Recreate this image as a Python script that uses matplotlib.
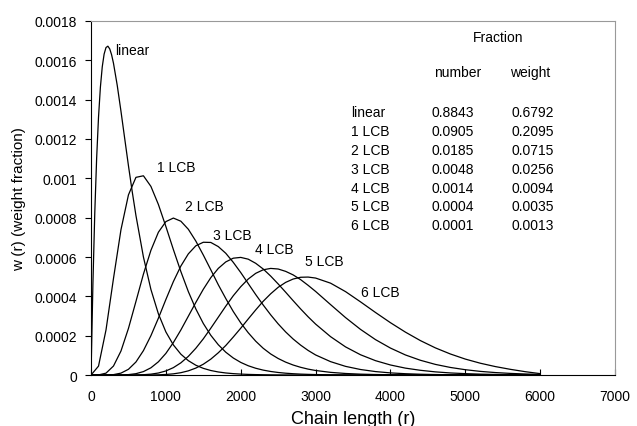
# 目标：不同长链支化数(LCB)分子的链长分布曲线

import numpy as np
import matplotlib
matplotlib.use('Agg')
import matplotlib.pyplot as plt

plt.rcParams['font.family'] = ['Liberation Sans', 'DejaVu Sans']

# 1.数据：链长 r 与各曲线的 w(r)
# linear 峰很窄，单独用更密的 r
r_lin = [0, 25, 50, 75, 100, 125, 150, 175, 200, 225, 250, 275, 300, 350, 400, 450, 500, 550, 600,
         700, 800, 900, 1000, 1100, 1200, 1300, 1400, 1500, 1600, 1700, 1800, 1900, 2000,
         2100, 2200, 2300, 2400, 2500, 2600, 2700, 2800, 2900, 3000, 4000, 5000, 6000]
w_linear = [0, 0.000461, 0.000823, 0.001102, 0.001311, 0.001463, 0.001567, 0.001632, 0.001665, 0.001672,
            0.001658, 0.001628, 0.001585, 0.001473, 0.001341, 0.001202, 0.001064, 0.000933, 0.000811,
            0.000600, 0.000435, 0.000311, 0.000219, 0.000153, 0.000106, 0.0000729, 0.0000498, 0.0000339,
            0.0000229, 0.0000155, 0.0000104, 0.0000070, 0.0000047, 0.0000031, 0.0000021, 0.0000014,
            0.0000009, 0.0000006, 0.0000004, 0.0000003, 0.0000002, 0.0000001, 0.0000001, 0, 0, 0]

r = [0, 100, 200, 300, 400, 500, 600, 700, 800, 900, 1000,
     1100, 1200, 1300, 1400, 1500, 1600, 1700, 1800, 1900, 2000,
     2100, 2200, 2300, 2400, 2500, 2600, 2700, 2800, 2900, 3000,
     3200, 3400, 3600, 3800, 4000, 4200, 4400, 4600, 4800, 5000,
     5200, 5400, 5600, 5800, 6000]

w_1lcb = [0, 0.0000452, 0.000229, 0.000491, 0.000739, 0.000916, 0.001005, 0.001013, 0.000959, 0.000867, 0.000755,
          0.000638, 0.000526, 0.000424, 0.000336, 0.000262, 0.000202, 0.000154, 0.000116, 0.0000866, 0.0000641,
          0.0000471, 0.0000344, 0.0000249, 0.0000180, 0.0000129, 0.0000092, 0.0000066, 0.0000046, 0.0000033, 0.0000023,
          0.0000011, 0.0000005, 0.0000003, 0.0000001, 0, 0, 0, 0, 0, 0, 0, 0, 0, 0, 0]
w_2lcb = [0, 0.0000005, 0.0000095, 0.0000457, 0.000122, 0.000237, 0.000374, 0.000513, 0.000634, 0.000726, 0.000780,
          0.000798, 0.000782, 0.000741, 0.000681, 0.000610, 0.000535, 0.000459, 0.000389, 0.000323, 0.000265,
          0.000215, 0.000172, 0.000136, 0.000107, 0.0000840, 0.0000655, 0.0000508, 0.0000392, 0.0000300, 0.0000230,
          0.0000135, 0.0000078, 0.0000044, 0.0000025, 0.0000014, 0.0000008, 0.0000004, 0.0000002, 0.0000001, 0,
          0, 0, 0, 0, 0]
w_3lcb = [0, 0, 0.0000002, 0.0000020, 0.0000096, 0.0000291, 0.0000662, 0.000124, 0.000200, 0.000289, 0.000384,
          0.000475, 0.000554, 0.000616, 0.000657, 0.000675, 0.000674, 0.000653, 0.000619, 0.000573, 0.000521,
          0.000465, 0.000409, 0.000356, 0.000306, 0.000260, 0.000219, 0.000183, 0.000152, 0.000125, 0.000102,
          0.0000680, 0.0000440, 0.0000280, 0.0000175, 0.0000108, 0.0000066, 0.0000040, 0.0000024, 0.0000014, 0.0000008,
          0.0000005, 0.0000003, 0.0000002, 0.0000001, 0]
w_4lcb = [0, 0, 0, 0.0000001, 0.0000004, 0.0000021, 0.0000068, 0.0000174, 0.0000367, 0.0000672, 0.000110,
          0.000165, 0.000229, 0.000299, 0.000369, 0.000436, 0.000495, 0.000542, 0.000575, 0.000594, 0.000598,
          0.000589, 0.000568, 0.000539, 0.000503, 0.000463, 0.000421, 0.000378, 0.000336, 0.000296, 0.000259,
          0.000195, 0.000143, 0.000103, 0.0000730, 0.0000510, 0.0000350, 0.0000240, 0.0000160, 0.0000105, 0.0000070,
          0.0000045, 0.0000029, 0.0000018, 0.0000011, 0.0000006]
w_5lcb = [0, 0, 0, 0, 0, 0.0000001, 0.0000005, 0.0000016, 0.0000044, 0.0000102, 0.0000207,
          0.0000375, 0.0000619, 0.0000948, 0.000136, 0.000184, 0.000238, 0.000294, 0.000350, 0.000403, 0.000449,
          0.000488, 0.000517, 0.000535, 0.000542, 0.000539, 0.000527, 0.000509, 0.000485, 0.000456, 0.000425,
          0.000358, 0.000292, 0.000232, 0.000180, 0.000137, 0.000102, 0.0000750, 0.0000540, 0.0000385, 0.0000270,
          0.0000185, 0.0000125, 0.0000082, 0.0000052, 0.0000030]
w_6lcb = [0, 0, 0, 0, 0, 0, 0, 0.0000001, 0.0000004, 0.0000011, 0.0000027,
          0.0000060, 0.0000118, 0.0000212, 0.0000353, 0.0000549, 0.0000807, 0.000113, 0.000150, 0.000193, 0.000238,
          0.000285, 0.000331, 0.000375, 0.000413, 0.000446, 0.000471, 0.000488, 0.000497, 0.000498, 0.000493,
          0.000467, 0.000424, 0.000372, 0.000318, 0.000266, 0.000218, 0.000175, 0.000138, 0.000107, 0.0000810,
          0.0000600, 0.0000430, 0.0000290, 0.0000170, 0.0000070]

curves = [w_1lcb, w_2lcb, w_3lcb, w_4lcb, w_5lcb, w_6lcb]
curve_names = ['linear', '1 LCB', '2 LCB', '3 LCB', '4 LCB', '5 LCB', '6 LCB']
# 曲线标签位置 (r, w)
label_r = [320, 880, 1250, 1630, 2190, 2860, 3600]
label_w = [0.00165, 0.00106, 0.00086, 0.00071, 0.00064, 0.00058, 0.00042]

# 右上角的分数表
num_frac = ['0.8843', '0.0905', '0.0185', '0.0048', '0.0014', '0.0004', '0.0001']
wt_frac = ['0.6792', '0.2095', '0.0715', '0.0256', '0.0094', '0.0035', '0.0013']

x_ticks = [0, 1000, 2000, 3000, 4000, 5000, 6000, 7000]
y_ticks = [0, 0.0002, 0.0004, 0.0006, 0.0008, 0.001, 0.0012, 0.0014, 0.0016, 0.0018]
y_ticklabels = ['0', '0.0002', '0.0004', '0.0006', '0.0008', '0.001', '0.0012', '0.0014', '0.0016', '0.0018']

# 2.画布与坐标轴
fig = plt.figure(figsize=(6.37, 4.27), dpi=100)
ax = fig.add_axes([0.1429, 0.1194, 0.8226, 0.8291])

ax.plot(r_lin, w_linear, color='black', linewidth=0.9)
for w in curves:
    ax.plot(r, w, color='black', linewidth=0.9)

for name, lr, lw in zip(curve_names, label_r, label_w):
    ax.text(lr, lw, name, fontsize=10, ha='left', va='center')

# 3.表格文字（轴坐标）
ax.text(0.777, 0.955, 'Fraction', transform=ax.transAxes, fontsize=10, ha='center', va='center')
ax.text(0.700, 0.856, 'number', transform=ax.transAxes, fontsize=10, ha='center', va='center')
ax.text(0.838, 0.856, 'weight', transform=ax.transAxes, fontsize=10, ha='center', va='center')
for i, name in enumerate(curve_names):
    yy = 0.743 - i * 0.0534
    ax.text(0.4965, yy, name, transform=ax.transAxes, fontsize=10, ha='left', va='center')
    ax.text(0.649, yy, num_frac[i], transform=ax.transAxes, fontsize=10, ha='left', va='center')
    ax.text(0.802, yy, wt_frac[i], transform=ax.transAxes, fontsize=10, ha='left', va='center')

# 4.坐标轴样式
ax.set_xlim(0, 7000)
ax.set_ylim(0, 0.0018)
ax.set_xticks(x_ticks)
ax.set_yticks(y_ticks)
ax.set_yticklabels(y_ticklabels)
ax.tick_params(axis='x', direction='in', length=4, pad=10, labelsize=10)
ax.tick_params(axis='y', direction='out', length=4, pad=6, labelsize=10)
ax.spines['left'].set_color('black')
ax.spines['bottom'].set_color('black')
ax.spines['top'].set_color('#999999')
ax.spines['right'].set_color('#999999')
ax.set_xlabel('Chain length (r)', fontsize=13, labelpad=5)
ax.set_ylabel('w (r) (weight fraction)', fontsize=11, labelpad=6)

plt.savefig('out.png', dpi=100)
